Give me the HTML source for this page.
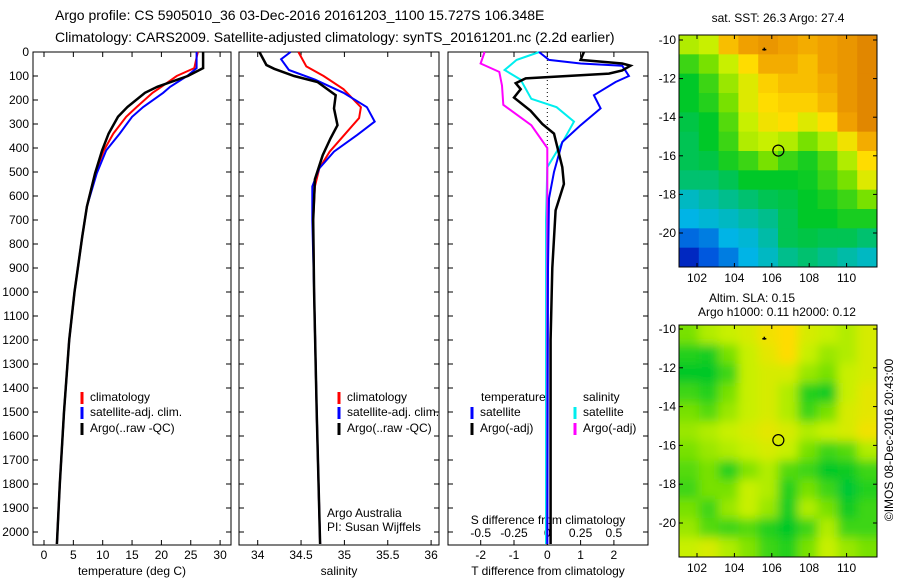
<!DOCTYPE html>
<html><head><meta charset="utf-8"><style>
body{margin:0;background:#fff;}
svg text{font-family:"Liberation Sans",sans-serif;font-size:12px;fill:#000;}
</style></head><body>
<svg id="c" width="900" height="580" xmlns="http://www.w3.org/2000/svg">
<defs>
<filter id="blur" x="-5%" y="-5%" width="110%" height="110%"><feGaussianBlur stdDeviation="5"/></filter>
<clipPath id="clip2"><rect x="679" y="325" width="198" height="232"/></clipPath>
</defs>
<text x="55" y="20" style="font-size:14px">Argo profile: CS 5905010_36 03-Dec-2016 20161203_1100 15.727S 106.348E</text>
<text x="55" y="42" style="font-size:14px">Climatology: CARS2009. Satellite-adjusted climatology: synTS_20161201.nc (2.2d earlier)</text>
<g id="g"></g>
</svg>
<script>
// ---- data ----
const tDepth=[0,67,100,145,170,229,270,340,410,505,644,770,1000,1200,1500,1800,2050];
const tArgo=[27.1,27.1,24.5,19.3,17.2,14.2,12.6,11.0,9.9,8.7,7.3,6.5,5.2,4.3,3.4,2.7,2.2];
const tClim=[26.2,25.6,22.6,20.0,18.5,15.8,14.0,11.8,10.2,8.7,7.3,6.5,5.2,4.3,3.4,2.7,2.2];
const tSat=[26.0,26.0,24.4,21.5,20.3,16.9,15.0,12.9,10.6,9.0,7.3,6.5,5.2,4.3,3.4,2.7,2.2];
const sDepth=[0,54,70,100,125,180,235,305,360,430,530,700,1000,1500,2050];
const sArgo=[34.02,34.1,34.19,34.42,34.69,34.9,34.88,34.92,34.84,34.75,34.66,34.64,34.65,34.68,34.72];
const sClimD=[0,60,100,155,230,275,345,415,485,560,700,1000,1500,2050];
const sClim=[34.47,34.56,34.76,34.99,35.19,35.17,35.0,34.83,34.71,34.66,34.64,34.65,34.68,34.72];
const sSatD=[0,30,75,115,170,230,290,345,415,485,560,700,1000,1500,2050];
const sSat=[34.38,34.27,34.36,34.66,34.99,35.26,35.35,35.15,34.88,34.71,34.63,34.63,34.65,34.68,34.72];
const dDepth=[0,33,48,57,77,90,110,130,155,190,245,300,340,480,550,660,900,1200,2050];
const dTArgo=[1.1,1.0,2.25,2.5,2.25,1.85,-0.65,-0.95,-0.8,-1.0,-0.5,-0.15,0.2,0.45,0.5,0.25,0.15,0.1,0.1];
const dTSatD=[0,33,48,57,100,125,180,235,305,375,500,610,900,2050];
const dTSat=[-0.25,0.05,1.0,2.25,2.45,2.05,1.4,1.6,1.0,0.45,0.2,0.05,0.02,0];
const dSSatD=[0,33,75,115,195,230,290,370,480,700,2050];
const dSSat=[-0.06,-0.23,-0.32,-0.2,-0.12,0.07,0.2,0.12,0.0,-0.01,-0.01];
const dSArgoD=[0,48,83,140,220,305,400,600,2050];
const dSArgo=[-0.47,-0.5,-0.36,-0.34,-0.33,-0.12,0,0,0];
const sstGrid=[
[.6,.62,.75,.8,.82,.8,.78,.8,.82,.85],[.5,.55,.62,.7,.78,.78,.75,.8,.82,.85],
[.45,.5,.58,.65,.72,.75,.75,.78,.82,.85],[.45,.48,.55,.65,.7,.72,.72,.76,.82,.85],
[.43,.45,.52,.62,.68,.7,.65,.7,.8,.85],[.42,.45,.5,.6,.62,.6,.55,.6,.68,.78],
[.42,.43,.47,.5,.55,.5,.47,.52,.6,.7],[.4,.4,.42,.45,.45,.45,.46,.5,.55,.65],
[.32,.35,.38,.4,.42,.43,.45,.47,.5,.55],[.28,.3,.32,.35,.38,.42,.45,.45,.47,.47],
[.2,.22,.28,.3,.35,.42,.43,.42,.42,.4],[.1,.18,.22,.28,.32,.38,.4,.38,.35,.32]];
const slaGrid=[
[.55,.6,.62,.64,.68,.7,.64,.62,.6,.64],[.48,.47,.55,.62,.66,.7,.62,.58,.6,.64],
[.45,.45,.5,.62,.64,.64,.58,.55,.62,.64],[.5,.48,.55,.62,.64,.6,.48,.46,.62,.66],
[.55,.52,.58,.62,.64,.6,.5,.55,.64,.66],[.58,.6,.62,.64,.66,.64,.6,.62,.64,.68],
[.55,.58,.6,.62,.64,.62,.55,.5,.52,.6],[.52,.55,.48,.56,.6,.52,.5,.45,.46,.5],
[.5,.55,.55,.62,.6,.48,.55,.5,.44,.48],[.55,.5,.58,.62,.58,.47,.6,.55,.46,.5],
[.58,.52,.5,.52,.48,.45,.5,.6,.5,.5],[.62,.64,.6,.56,.5,.48,.55,.62,.58,.55]];
const depthTicks=[0,100,200,300,400,500,600,700,800,900,1000,1100,1200,1300,1400,1500,1600,1700,1800,1900,2000];
const tTicks=[0,5,10,15,20,25,30];
const sTicks=[34,34.5,35,35.5,36];
const dTTicks=[-2,-1,0,1,2];
const dSTicks=["-0.5","-0.25","0","0.25","0.5"];
const lonTicks=[102,104,106,108,110];
const latTicks=[-10,-12,-14,-16,-18,-20];
const argoLon=106.35, argoLat=-15.73;
// ---- drawing ----
const NS="http://www.w3.org/2000/svg",G=document.getElementById('g');
function el(t,a,p){const e=document.createElementNS(NS,t);for(const k in a)e.setAttribute(k,a[k]);(p||G).appendChild(e);return e;}
function txt(x,y,s,anchor,p){const e=el('text',{x:x,y:y,'text-anchor':anchor||'start'},p);e.textContent=s;return e;}
const Y0=52,Y1=545;
const yD=d=>Y0+d*0.24;
const xT=v=>44+v*5.87, xS=v=>257.7+(v-34)*86.7, xDT=v=>547.3+v*33.3, xDS=v=>547.3+v*133.3;
function line(xs,ys,xf,col,w,name){const pts=xs.map((v,i)=>xf(v).toFixed(1)+','+yD(ys[i]).toFixed(1)).join(' ');
 const e=el('polyline',{points:pts,fill:'none',stroke:col,'stroke-width':w});
 
 }
function box(x0,x1,name){const r=el('rect',{x:x0,y:Y0,width:x1-x0,height:Y1-Y0,fill:'none',stroke:'#000'});
 
 
 depthTicks.forEach(d=>{el('line',{x1:x0,x2:x0+5,y1:yD(d),y2:yD(d),stroke:'#000'});el('line',{x1:x1-5,x2:x1,y1:yD(d),y2:yD(d),stroke:'#000'});});}
function xtick(x){el('line',{x1:x,x2:x,y1:Y1-5,y2:Y1,stroke:'#000'});el('line',{x1:x,x2:x,y1:Y0,y2:Y0+5,stroke:'#000'});}
// panel 1
box(33,231,'temperature-panel');
depthTicks.forEach(d=>{const t=txt(29,yD(d)+4,String(d),'end');});
tTicks.forEach(v=>{xtick(xT(v));txt(xT(v),559,String(v),'middle');});
txt(132,575,'temperature (deg C)','middle');
line(tClim,tDepth,xT,'#f00',2,'temp-climatology-line');
line(tSat,tDepth,xT,'#00f',2,'temp-satellite-line');
line(tArgo,tDepth,xT,'#000',2.5,'temp-argo-line');
function leg(x,y,col,s){el('line',{x1:x,x2:x,y1:y-9,y2:y+3,stroke:col,'stroke-width':3});if(s)txt(x+8,y,s);}
leg(82,401,'#f00','climatology');leg(82,416,'#00f','satellite-adj. clim.');leg(82,432,'#000','Argo(..raw -QC)');
// panel 2
box(239,439,'salinity-panel');
sTicks.forEach(v=>{xtick(xS(v));txt(xS(v),559,String(v),'middle');});
txt(339,575,'salinity','middle');
line(sClim,sClimD,xS,'#f00',2,'sal-climatology-line');
line(sSat,sSatD,xS,'#00f',2,'sal-satellite-line');
line(sArgo,sDepth,xS,'#000',2.5,'sal-argo-line');
leg(339,401,'#f00','climatology');leg(339,416,'#00f','satellite-adj. clim.');leg(339,432,'#000','Argo(..raw -QC)');
txt(327,517,'Argo Australia');txt(327,531,'PI: Susan Wijffels');
// panel 3
box(448,648,'difference-panel');
el('line',{x1:547.3,x2:547.3,y1:Y0,y2:Y1,stroke:'#000','stroke-dasharray':'1,3'});
dTTicks.forEach(v=>{xtick(xDT(v));txt(xDT(v),559,String(v),'middle');});
dSTicks.forEach((s,i)=>{txt(xDT(i-2),537,s,'middle');});
txt(548,524,'S difference from climatology','middle');
txt(548,575,'T difference from climatology','middle');
line(dSSat,dSSatD,xDS,'#0ee',2,'dsal-satellite-line');
line(dSArgo,dSArgoD,xDS,'#f0f',2,'dsal-argo-line');
line(dTSat,dTSatD,xDT,'#00f',2,'dtemp-satellite-line');
line(dTArgo,dDepth,xDT,'#000',2.5,'dtemp-argo-line');
txt(481,401,'temperature');txt(583,401,'salinity');
leg(472,416,'#00f','satellite');leg(472,432,'#000','Argo(-adj)');
leg(575,416,'#0ee','satellite');leg(575,432,'#f0f','Argo(-adj)');
// maps
const stops=[[0,[0,0,140]],[.15,[0,60,220]],[.28,[0,180,230]],[.38,[0,190,140]],[.45,[0,200,40]],[.55,[120,225,0]],[.62,[200,240,0]],[.7,[255,220,0]],[.8,[240,160,0]],[.9,[210,110,0]],[1,[160,0,0]]];
function cmap(v){for(let i=1;i<stops.length;i++){if(v<=stops[i][0]){const a=stops[i-1],b=stops[i],f=(v-a[0])/(b[0]-a[0]);return 'rgb('+a[1].map((c,k)=>Math.round(c+(b[1][k]-c)*f)).join(',')+')';}}return 'rgb(160,0,0)';}
function map(grid,y0,y1,lat10,lat20,name,smooth){const x0=679,x1=877;const xL=lo=>697+(lo-102)*18.7;const yL=la=>lat10+(-10-la)*((lat20-lat10)/10);
 const nr=grid.length,nc=grid[0].length,cw=(x1-x0)/nc,ch=(y1-y0)/nr;
 let grp=G;
 if(smooth){const cg=el('g',{'clip-path':'url(#clip2)'});grp=el('g',{filter:'url(#blur)'},cg);}
 grid.forEach((row,r)=>row.forEach((v,c)=>{const e=el('rect',{x:x0+c*cw-(smooth&&c==0?10:0),y:y0+r*ch-(smooth&&r==0?10:0),width:cw+0.5+(smooth&&(c==0||c==nc-1)?10:0),height:ch+0.5+(smooth&&(r==0||r==nr-1)?10:0),fill:cmap(v)},grp);
  
  }));
 const b=el('rect',{x:x0,y:y0,width:x1-x0,height:y1-y0,fill:'none',stroke:'#000'});
 
 
 lonTicks.forEach(v=>{el('line',{x1:xL(v),x2:xL(v),y1:y1-4,y2:y1,stroke:'#000'});el('line',{x1:xL(v),x2:xL(v),y1:y0,y2:y0+4,stroke:'#000'});txt(xL(v),y1+15,String(v),'middle');});
 latTicks.forEach(v=>{el('line',{x1:x0,x2:x0+4,y1:yL(v),y2:yL(v),stroke:'#000'});el('line',{x1:x1-4,x2:x1,y1:yL(v),y2:yL(v),stroke:'#000'});txt(x0-3,yL(v)+4,String(v),'end');});
 el('circle',{cx:xL(argoLon),cy:yL(argoLat),r:5.5,fill:'none',stroke:'#000','stroke-width':1.2});
 el('path',{d:`M${xL(105.6)-2},${yL(-10.5)} h4 M${xL(105.6)},${yL(-10.5)-2} v3`,stroke:'#000','stroke-width':1.5});}
txt(778,22,'sat. SST: 26.3 Argo: 27.4','middle');
map(sstGrid,35,267,40,233,'sst-map',false);
txt(752,302,'Altim. SLA: 0.15','middle');txt(777,316,'Argo h1000: 0.11 h2000: 0.12','middle');
map(slaGrid,325,557,329,523,'sla-map',true);
const cr=txt(0,0,'©IMOS 08-Dec-2016 20:43:00','middle');cr.setAttribute('transform','translate(893,440) rotate(-90)');


</script>
</body></html>
